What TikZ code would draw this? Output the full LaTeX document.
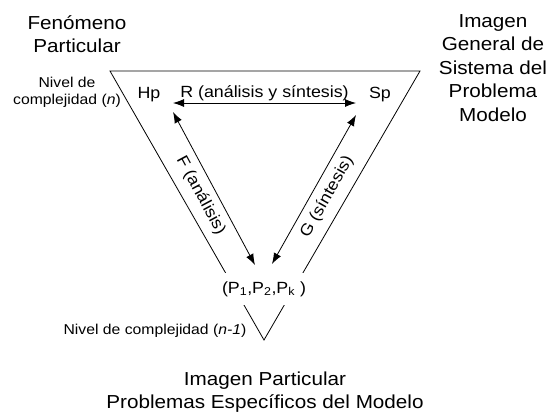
\documentclass[tikz,border=0pt]{standalone}
\usepackage{fontspec}
\setmainfont{Liberation Sans}[FakeStretch=1.1]
\usetikzlibrary{arrows.meta}

\begin{document}
\begin{tikzpicture}[x=1pt,y=1pt,
        bigtext/.style={font=\fontsize{18.8}{23.5}\selectfont, align=center},
        midtext/.style={font=\fontsize{16.2}{19}\selectfont, inner sep=0pt},
        smalltext/.style={font=\fontsize{14.3}{17}\selectfont, align=center},
        doublearrow/.style={line width=0.8pt, {Latex[length=11pt,width=8pt]}-{Latex[length=11pt,width=8pt]}}]
        \useasboundingbox (0,0) rectangle (550,-416);
        \coordinate (tl) at (110,-71);
        \coordinate (tr) at (420,-71);
        \coordinate (bt) at (264,-340);
        \draw[line width=0.8pt] (tl) -- (tr) -- (bt) -- cycle;
        \node[midtext, fill=white, minimum height=32pt, inner xsep=3pt] (pk) at (264,-289) {(P\textsubscript{1},P\textsubscript{2},P\textsubscript{k} )};
        \node[midtext] (hp) at (149,-95) {Hp};
        \node[midtext] (sp) at (380,-95) {Sp};
        \coordinate (hpEnd) at (173,-103);
        \coordinate (spEnd) at (356,-103);
        \draw[doublearrow] (hpEnd) -- node[midtext, above=2pt] (rlabel) {R (análisis y síntesis)} (spEnd);
        \coordinate (fTop) at (173,-112);
        \coordinate (fBot) at (255,-265);
        \draw[doublearrow] (fTop) -- node[midtext, sloped, below=7pt] (flabel) {F (análisis)} (fBot);
        \coordinate (gBot) at (272,-264);
        \coordinate (gTop) at (356,-115);
        \draw[doublearrow] (gBot) -- node[midtext, sloped, below=7pt] (glabel) {G (síntesis)} (gTop);
        \node[bigtext] (fenomeno) at (77,-34) {Fenómeno\\Particular};
        \node[bigtext] (imagenGen) at (493,-68) {Imagen\\General de\\Sistema del\\Problema\\Modelo};
        \node[bigtext] (imagenPart) at (265,-392) {Imagen Particular\\Problemas Específicos del Modelo};
        \node[smalltext] (nivelN) at (67,-92) {Nivel de\\complejidad (\textit{n})};
        \node[smalltext] (nivelN1) at (155,-331) {Nivel de complejidad (\textit{n-1})};
    \end{tikzpicture}
\end{document}
